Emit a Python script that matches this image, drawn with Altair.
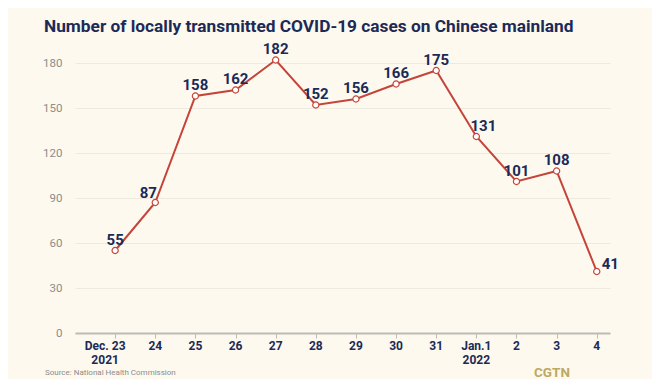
import altair as alt
import pandas as pd

# ---- data ----
dates = ["Dec. 23\n2021", "24", "25", "26", "27", "28", "29", "30", "31",
         "Jan.1\n2022", "2", "3", "4"]
cases = [55, 87, 158, 162, 182, 152, 156, 166, 175, 131, 101, 108, 41]
y_ticks = [0, 30, 60, 90, 120, 150, 180]

title_text = "Number of locally transmitted COVID-19 cases on Chinese mainland"
source_text = "Source: National Health Commission"
brand_text = "CGTN"

df = pd.DataFrame({"idx": list(range(len(cases))), "date": dates, "cases": cases})

FONT = "Roboto"
NAVY = "#1B2A57"
RED = "#C4443A"
BG = "#FDF9EE"

W, H = 535, 270

x = alt.X("idx:Q", scale=alt.Scale(domain=[-1, 12.33], nice=False, zero=False),
          axis=alt.Axis(values=list(range(13)), labels=False, ticks=True, tickSize=5,
                        tickColor="#BDBBB3", tickWidth=1, domain=True, domainColor="#BDBBB3",
                        domainWidth=2, grid=False, title=None))
y = alt.Y("cases:Q", scale=alt.Scale(domain=[0, 180], nice=False),
          axis=alt.Axis(values=y_ticks, title=None, domain=False, ticks=False,
                        gridColor="#EEEADF", gridWidth=1, labelColor="#8C8C8C",
                        labelFont=FONT, labelFontSize=11.5, labelPadding=13))

base = alt.Chart(df)

line = base.mark_line(color=RED, strokeWidth=2).encode(x=x, y=y)
pts = base.mark_point(shape="circle", size=38, filled=True, fill="#FFFFFF",
                      stroke=RED, strokeWidth=1.2, opacity=1).encode(x=x, y=y)

lab_kw = dict(font=FONT, fontSize=15, fontWeight="bold", color=NAVY, baseline="alphabetic")
labels_main = base.transform_filter("datum.idx != 1 && datum.idx != 9 && datum.idx != 12").mark_text(
    align="center", dy=-6, **lab_kw).encode(x=x, y=y, text="cases:Q")
label_87 = base.transform_filter("datum.idx == 1").mark_text(
    align="center", dx=-7, dy=-5, **lab_kw).encode(x=x, y=y, text="cases:Q")
label_131 = base.transform_filter("datum.idx == 9").mark_text(
    align="center", dx=7, dy=-6, **lab_kw).encode(x=x, y=y, text="cases:Q")
label_41 = base.transform_filter("datum.idx == 12").mark_text(
    align="left", dx=5, dy=-3, **lab_kw).encode(x=x, y=y, text="cases:Q")

xl_kw = dict(font=FONT, fontSize=12, fontWeight="bold", color=NAVY,
             baseline="top", align="center", lineBreak="\n", lineHeight=14)
xlabels = base.transform_filter("datum.idx != 0").mark_text(**xl_kw).encode(
    x=x, y=alt.value(H + 8), text="date:N")
xlabel0 = base.transform_filter("datum.idx == 0").mark_text(dx=-10, **xl_kw).encode(
    x=x, y=alt.value(H + 8), text="date:N")

title = alt.Chart(pd.DataFrame({"t": [title_text]})).mark_text(
    font=FONT, fontSize=17.3, fontWeight="bold", color=NAVY, align="left", baseline="alphabetic").encode(
    x=alt.value(-31), y=alt.value(-31), text="t:N")
src = alt.Chart(pd.DataFrame({"t": [source_text]})).mark_text(
    font=FONT, fontSize=8, color="#8C8C8C", align="left", baseline="middle").encode(
    x=alt.value(-30), y=alt.value(H + 40), text="t:N")
brand = alt.Chart(pd.DataFrame({"t": [brand_text]})).mark_text(
    font=FONT, fontSize=13.5, fontWeight="bold", color="#BFA862", align="center", baseline="middle").encode(
    x=alt.value(477), y=alt.value(H + 40), text="t:N")

chart = alt.layer(line, pts, labels_main, label_87, label_131, label_41, xlabels, xlabel0,
                  title, src, brand).properties(
    width=W, height=H,
    background=BG,
    autosize=alt.AutoSizeParams(type="none"),
    padding={"left": 67, "top": 55, "right": 42, "bottom": 46},
).configure_view(stroke=None)

chart.save("out.html", embed_options={"renderer": "svg", "actions": False})
